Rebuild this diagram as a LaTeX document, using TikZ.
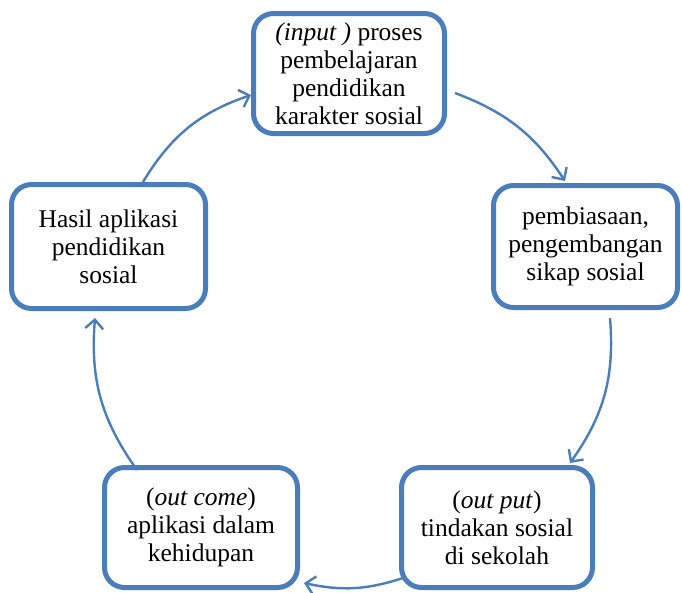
\documentclass[tikz,border=0pt]{standalone}
\usepackage{fontspec}
\setmainfont{LiberationSerif}[Extension=.ttf, UprightFont=*-Regular, ItalicFont=*-Italic, BoldFont=*-Bold, BoldItalicFont=*-BoldItalic]
\usetikzlibrary{arrows.meta,calc}
\definecolor{boxblue}{RGB}{74,126,187}
\tikzset{
  stagebox/.style={draw=boxblue, line width=5pt, rounded corners=20pt, fill=white,
    align=center, inner sep=0pt, outer sep=0pt,
    font=\fontsize{25.5pt}{28pt}\selectfont},
  flow/.style={draw=boxblue, line width=2.4pt, bend left=#1,
    -{Straight Barb[length=9pt,width=18pt,line width=2.4pt]}},
  flow/.default=20
}
\begin{document}
\begin{tikzpicture}[x=1pt,y=1pt]
\useasboundingbox (0,0) rectangle (682,-592);
\node[stagebox, minimum width=191pt, minimum height=120pt] (inp) at (349,-73.5)
  {\textit{(input )} proses\\pembelajaran\\pendidikan\\karakter sosial};
\node[stagebox, minimum width=184pt, minimum height=122pt] (hab) at (585.5,-246.5)
  {pembiasaan,\\pengembangan\\sikap sosial};
\node[stagebox, minimum width=191pt, minimum height=120pt] (outp) at (497,-527.5)
  {(\textit{out put})\\tindakan sosial\\di sekolah};
\node[stagebox, minimum width=193pt, minimum height=120pt] (outc) at (201,-527.5)
  {(\textit{out come})\\aplikasi dalam\\kehidupan};
\node[stagebox, minimum width=194pt, minimum height=124pt] (has) at (108.5,-246.5)
  {Hasil aplikasi\\pendidikan\\sosial};
\draw[flow=18] ($(inp)+(106,-19.5)$) to ($(hab)+(-20.5,65.5)$);
\draw[flow=20] ($(hab)+(24.5,-71.5)$) to ($(outp)+(73,64.5)$);
\draw[flow=15] ($(outp)+(-94,-50.5)$) to ($(outc)+(103,-55.5)$);
\draw[flow=20] ($(outc)+(-64,57.5)$) to ($(has)+(-13.5,-71.5)$);
\draw[flow=20] ($(has)+(34.5,64.5)$) to ($(inp)+(-98,-21.5)$);
\end{tikzpicture}
\end{document}
